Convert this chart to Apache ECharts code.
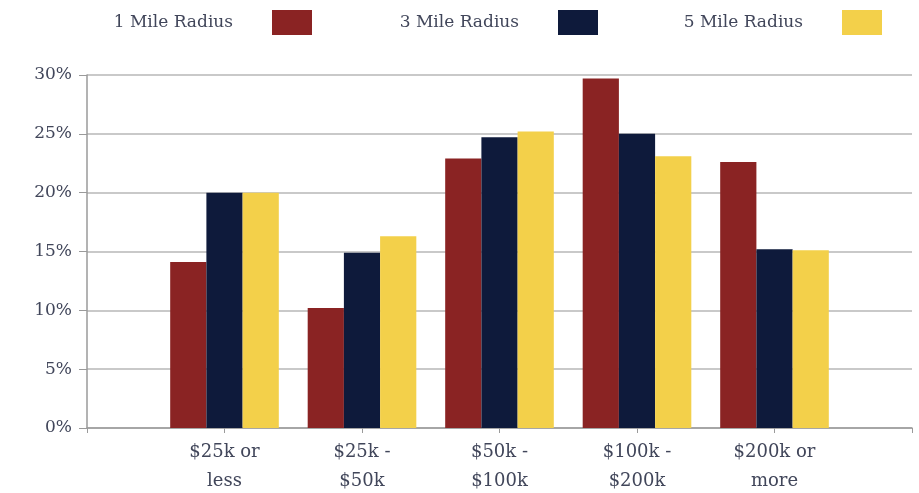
<!DOCTYPE html>
<html>
<head>
<meta charset="utf-8">
<script src="https://cdn.jsdelivr.net/npm/echarts@6/dist/echarts.min.js"></script>
<style>
html,body{margin:0;padding:0;background:#fff;}
#chart{width:919px;height:493px;}
</style>
</head>
<body>
<div id="chart"></div>
<script>
const categories = ['$25k or\nless', '$25k -\n$50k', '$50k -\n$100k', '$100k -\n$200k', '$200k or\nmore'];
const seriesNames = ['1 Mile Radius', '3 Mile Radius', '5 Mile Radius'];
const mile1 = [14.1, 10.2, 22.9, 29.7, 22.6];
const mile3 = [20.0, 14.9, 24.7, 25.0, 15.2];
const mile5 = [20.0, 16.3, 25.2, 23.1, 15.1];
const yTicks = [0, 5, 10, 15, 20, 25, 30];
const colors = ['#8a2323', '#0e1a3b', '#f3d04a'];

const FONT = 'DejaVu Serif';
const TEXT = '#41465a';

// pad one empty slot on each side so bars sit between axis ends (boundaryGap false)
const axisCats = [''].concat(categories, ['']);
const pad = arr => [null].concat(arr, [null]);
const values = [mile1, mile3, mile5];

const chart = echarts.init(document.getElementById('chart'));
const legendRights = [607, 321, 37];
chart.setOption({
  animation: false,
  backgroundColor: '#fff',
  legend: seriesNames.map((n, i) => ({
    data: [n],
    right: legendRights[i],
    top: 10,
    padding: 0,
    align: 'right',
    itemWidth: 40,
    itemHeight: 25,
    icon: 'rect',
    textStyle: { fontFamily: FONT, fontSize: 17, color: TEXT, padding: [0, 34, 0, 0] }
  })),
  grid: { left: 87, right: 7, top: 75, bottom: 65, containLabel: false, outerBoundsMode: 'none' },
  xAxis: {
    type: 'category',
    data: axisCats,
    boundaryGap: false,
    axisLine: { lineStyle: { color: '#9a9a9a', width: 1.5 } },
    axisTick: { show: true, length: 5, lineStyle: { color: '#9a9a9a' } },
    axisLabel: { fontFamily: FONT, fontSize: 18, color: TEXT, lineHeight: 29, margin: 10, interval: 0 },
    splitLine: { show: false }
  },
  yAxis: {
    type: 'value',
    min: yTicks[0],
    max: yTicks[yTicks.length - 1],
    interval: yTicks[1] - yTicks[0],
    axisLine: { show: true, lineStyle: { color: '#9a9a9a', width: 1.5 } },
    axisTick: { show: true, length: 8, lineStyle: { color: '#9a9a9a' } },
    axisLabel: { fontFamily: FONT, fontSize: 17, color: TEXT, margin: 15, formatter: '{value}%' },
    splitLine: { lineStyle: { color: '#c9c9c9', width: 2 } }
  },
  series: seriesNames.map((n, i) => ({
    name: n,
    type: 'bar',
    data: pad(values[i]),
    itemStyle: { color: colors[i] },
    barGap: '0%',
    barCategoryGap: '21%'
  }))
});
</script>
</body>
</html>
